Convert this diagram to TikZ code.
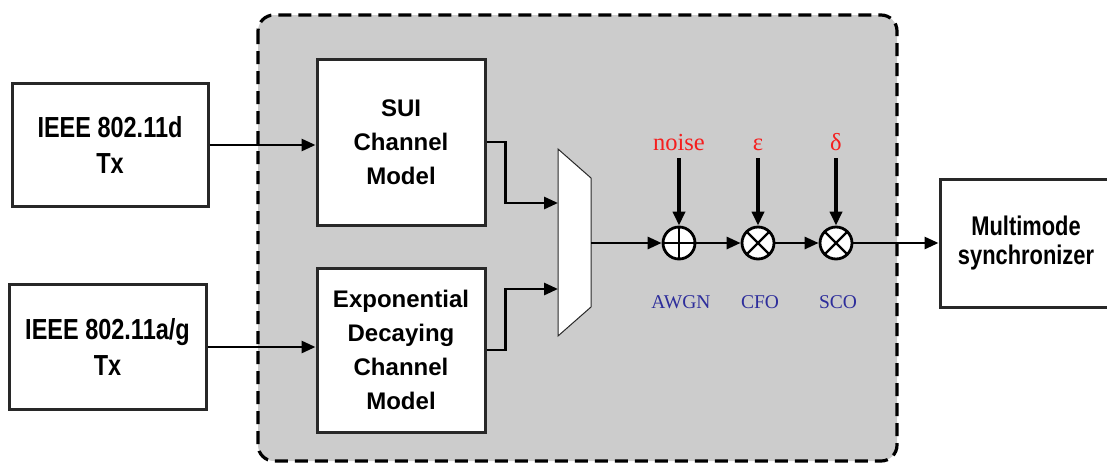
\documentclass[tikz,border=0pt]{standalone}
\usepackage{fontspec}
\setmainfont{Liberation Sans}
\newfontfamily\narrowsans{Liberation Sans}[FakeStretch=0.81]
\newfontfamily\timesfont{Liberation Serif}
\usetikzlibrary{arrows.meta,calc}
\definecolor{panelgray}{RGB}{204,204,204}
\definecolor{paramred}{RGB}{245,30,30}
\definecolor{tagblue}{RGB}{45,45,155}
\definecolor{edgegray}{RGB}{40,40,40}

\begin{document}
\begin{tikzpicture}[x=1pt,y=-1pt,
  sig/.style={line width=2.8pt,-{Triangle[length=14pt,width=12pt]}},
  feed/.style={line width=3.6pt,-{Triangle[length=14pt,width=12pt]},shorten <=8pt},
  blockbox/.style={draw=edgegray,line width=3pt,fill=white,align=center,inner sep=0pt,
    font=\bfseries\fontsize{24}{34}\selectfont},
  narrowbox/.style={blockbox,font=\narrowsans\bfseries\fontsize{29}{36}\selectfont},
  mixer/.style={circle,draw,line width=2.8pt,fill=white,minimum size=32pt,inner sep=0pt},
  adder/.style={mixer,path picture={\draw[line width=2.2pt]
    (path picture bounding box.north) -- (path picture bounding box.south)
    (path picture bounding box.west) -- (path picture bounding box.east);}},
  multiplier/.style={mixer,path picture={\draw[line width=2.2pt]
    (path picture bounding box.north west) -- (path picture bounding box.south east)
    (path picture bounding box.north east) -- (path picture bounding box.south west);}},
  param/.style={text=paramred,font=\timesfont\fontsize{24.5}{24}\selectfont,
    inner sep=0pt,text height=16pt,text depth=0pt,anchor=base},
  tag/.style={text=tagblue,font=\timesfont\fontsize{19.5}{20}\selectfont}]

\useasboundingbox (0,0) rectangle (1107,466);

% Shaded channel emulation panel.
\draw[line width=3.2pt,dash pattern=on 13pt off 7pt,rounded corners=16pt,fill=panelgray]
  (258,15) rectangle (897,461);

% Transmitters and channel models.
\node[narrowbox,minimum width=196pt,minimum height=123pt] (tx1) at (110,145) {IEEE 802.11d\\Tx};
\node[narrowbox,minimum width=197pt,minimum height=125pt] (tx2) at (107.5,347) {IEEE 802.11a/g\\Tx};
\node[blockbox,minimum width=168pt,minimum height=166pt] (sui) at (401,142) {SUI\\Channel\\Model};
\node[blockbox,minimum width=168pt,minimum height=164pt] (expo) at (401,350)
  {Exponential\\Decaying\\Channel\\Model};

% Selector.
\draw[draw=edgegray,line width=1pt,fill=white] (558,149) -- (591,178) -- (591,307) -- (558,336) -- cycle;
\coordinate (muxin1) at (558,203);
\coordinate (muxin2) at (558,289);
\coordinate (muxout) at (591,243);

% Impairments.
\node[adder] (awgn) at (679,243) {};
\node[multiplier] (cfo) at (758,243) {};
\node[multiplier] (sco) at (836,243) {};
\node[param] (noise) at (679,150) {noise};
\node[param] (eps) at (758,150) {ε};
\node[param] (delta) at (836,150) {δ};
\node[tag] (awgntag) at (681,302) {AWGN};
\node[tag] (cfotag) at (760,302) {CFO};
\node[tag] (scotag) at (838,302) {SCO};

\node[narrowbox,font=\narrowsans\bfseries\fontsize{27}{29}\selectfont,
  minimum width=172pt,minimum height=128pt] (sync) at (1026,243) {Multimode\\synchronizer};

% Connections.
\draw[sig] (tx1.east) -- (tx1.east -| sui.west);
\draw[sig] (tx2.east) -- (tx2.east -| expo.west);
\draw[sig] (sui.east) -- ++(19,0) |- (muxin1);
\draw[sig] (expo.east) -- ++(19,0) |- (muxin2);
\draw[sig] (muxout) -- (awgn);
\draw[sig] (awgn) -- (cfo);
\draw[sig] (cfo) -- (sco);
\draw[sig] (sco) -- (sync);
\draw[feed] (noise.south) -- (awgn.north);
\draw[feed] (eps.south) -- (cfo.north);
\draw[feed] (delta.south) -- (sco.north);

\end{tikzpicture}
\end{document}
